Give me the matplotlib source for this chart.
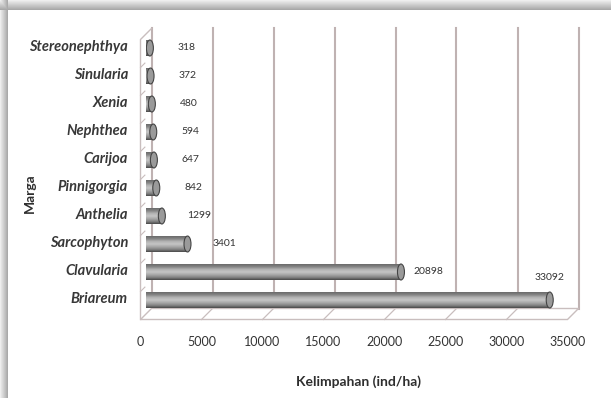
import matplotlib.pyplot as plt
import numpy as np
from matplotlib.colors import LinearSegmentedColormap
from matplotlib.patches import Ellipse, Polygon

# abundance per genus (ind/ha), listed bottom to top
genera = ['Briareum', 'Clavularia', 'Sarcophyton', 'Anthelia', 'Pinnigorgia',
          'Carijoa', 'Nephthea', 'Xenia', 'Sinularia', 'Stereonephthya']
abundance = [33092, 20898, 3401, 1299, 842, 647, 594, 480, 372, 318]
x_ticks = [0, 5000, 10000, 15000, 20000, 25000, 30000, 35000]

plt.rcParams['font.family'] = ['Lato', 'DejaVu Sans']

W, H = 611, 398
fig = plt.figure(figsize=(W / 100, H / 100), dpi=100)
fig.patch.set_facecolor('white')

# grey drop shadow along the top and left edges of the panel
bg = fig.add_axes([0, 0, 1, 1])
bg.axis('off')
yy, xx = np.mgrid[0:H, 0:W]
top = np.where(yy < 10, 0.93 - 0.30 * yy / 10, 1.0)
left = np.where(xx < 8, 0.93 - 0.30 * xx / 8, 1.0)
shade = np.minimum(top, left)
bg.imshow(shade, cmap='gray', vmin=0, vmax=1, extent=(0, W, H, 0), aspect='auto')
bg.set_xlim(0, W)
bg.set_ylim(H, 0)

# plot area placed in pixels (mid-depth of the 3D box)
x0, x1 = 146, 573
y_top, y_bot = 34, 314
ax = fig.add_axes([x0 / W, (H - y_bot) / H, (x1 - x0) / W, (y_bot - y_top) / H])
ax.axis('off')
xmax = 35000
ax.set_xlim(0, xmax)
ax.set_ylim(-0.5, len(genera) - 0.5)

# depth offset of the walls, 5.5 px each way
DX = 5.5 * xmax / (x1 - x0)
DY = 5.5 * len(genera) / (y_bot - y_top)
ylo, yhi = -0.5, len(genera) - 0.5

wall = '#c9bebe'
grid = '#bfb2b2'
# back wall gridlines
for t in x_ticks:
    ax.plot([t + DX, t + DX], [ylo + DY, yhi + DY], color=grid, lw=1.5,
            clip_on=False, zorder=1)
# floor
floor = Polygon([(-DX, ylo - DY), (xmax - DX, ylo - DY),
                 (xmax + DX, ylo + DY), (DX, ylo + DY)],
                closed=True, facecolor='white', edgecolor=wall, lw=1.0,
                clip_on=False, zorder=1)
ax.add_patch(floor)
for t in x_ticks[1:-1]:
    ax.plot([t - DX, t + DX], [ylo - DY, ylo + DY], color=wall, lw=0.9,
            clip_on=False, zorder=1)
# left wall
ax.plot([-DX, -DX, DX], [ylo - DY, yhi - DY, yhi + DY], color=wall, lw=1.0,
        clip_on=False, zorder=1)
for k in range(len(genera) - 1):
    yk = k + 0.5
    ax.plot([-DX, -DX * 0.2], [yk - DY, yk - DY * 0.2], color=wall, lw=0.8,
            clip_on=False, zorder=1)

# cylinder bars: gradient clipped to each bar, plus an end cap
ypos = np.arange(len(genera))
bar_h = 0.57
bars = ax.barh(ypos, abundance, height=bar_h, color='none', edgecolor='none', zorder=2)
bar_cmap = LinearSegmentedColormap.from_list(
    'cyl', ['#4a4a4a', '#858585', '#a8a8a8', '#c6c6c6', '#b2b2b2', '#858585', '#6a6a6a'])
grad = np.linspace(0, 1, 64).reshape(-1, 1)
cap_w = 7 * xmax / (x1 - x0)
for bar, v, y in zip(bars, abundance, ypos):
    im = ax.imshow(grad, cmap=bar_cmap, aspect='auto', zorder=3,
                   extent=(0, v, y - bar_h / 2, y + bar_h / 2), origin='lower')
    im.set_clip_path(bar)
    cap = Ellipse((v, y), cap_w, bar_h, facecolor='#9a9a9a', edgecolor='#444444',
                  lw=0.8, zorder=4)
    ax.add_patch(cap)
ax.set_xlim(0, xmax)
ax.set_ylim(ylo, yhi)

# value labels
label_off = {'Clavularia': (27, 0), 'Briareum': (0, 23)}
for name, v, y in zip(genera, abundance, ypos):
    off = label_off.get(name, (37, 0))
    ax.annotate(str(v), xy=(v, y), xytext=off, textcoords='offset pixels',
                ha='center', va='center', fontsize=7.5, color='#333333', zorder=5)

# category labels
for name, y in zip(genera, ypos):
    ax.annotate(name, xy=(0, y), xytext=(-18, 1), textcoords='offset pixels',
                ha='right', va='center', fontsize=10.5, style='italic',
                fontweight='bold', color='#383838', annotation_clip=False)

# x tick labels under the front edge of the floor
for t in x_ticks:
    ax.annotate(str(t), xy=(t, ylo), xytext=(-5.5, -28), textcoords='offset pixels',
                ha='center', va='center', fontsize=9, color='#333333',
                annotation_clip=False)

fig.text(359 / W, 1 - 382 / H, 'Kelimpahan (ind/ha)', ha='center', va='center',
         fontsize=10, fontweight='bold', color='#2e2e2e')
fig.text(30 / W, 1 - 193 / H, 'Marga', ha='center', va='center', rotation=90,
         fontsize=10, fontweight='bold', color='#2e2e2e')

fig.savefig('out.png', dpi=100)
